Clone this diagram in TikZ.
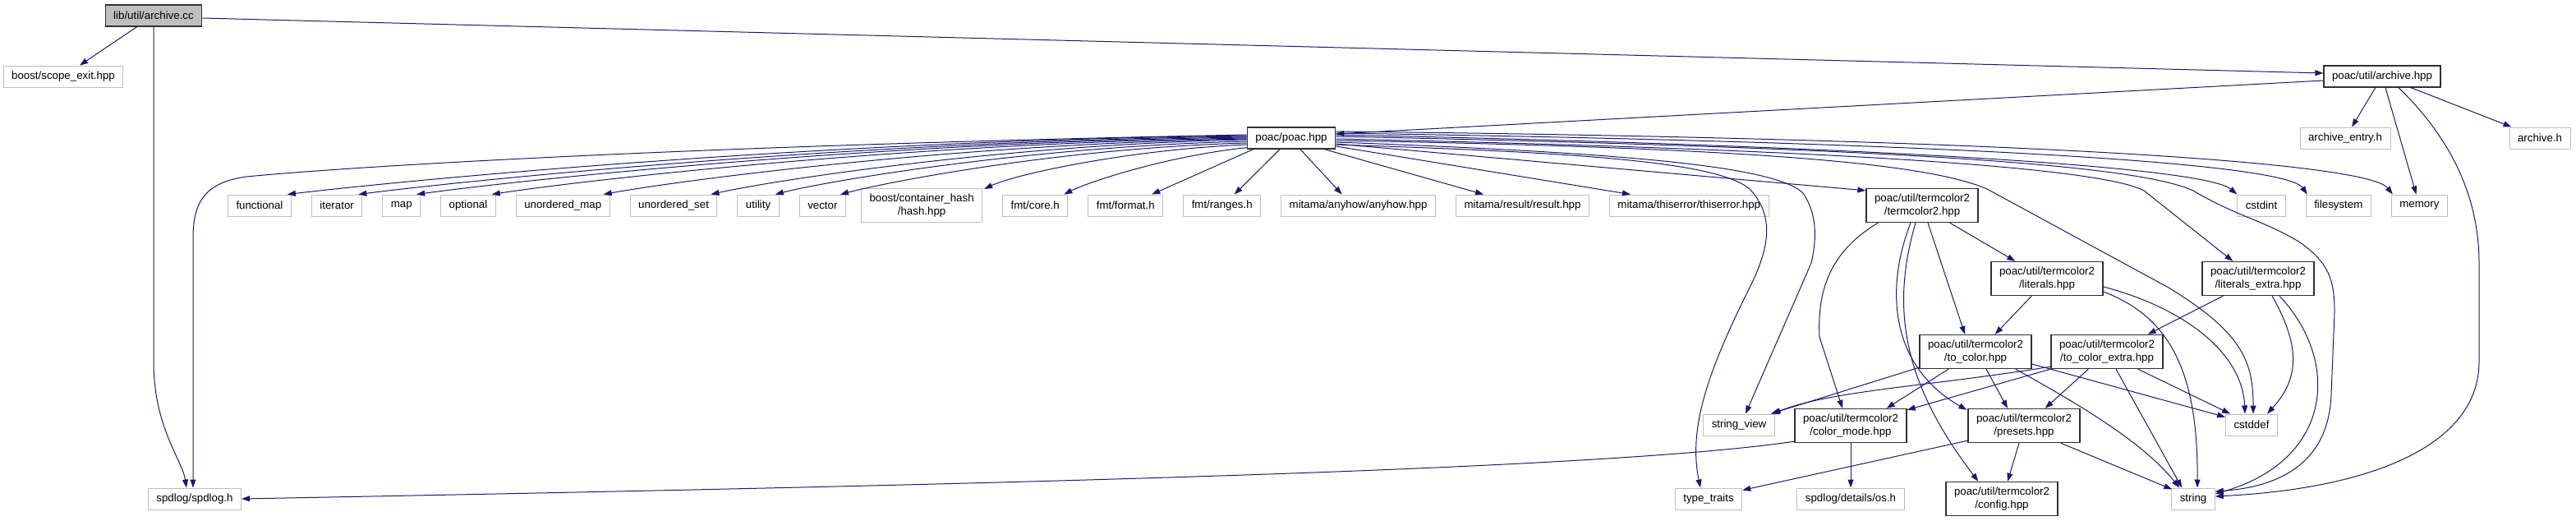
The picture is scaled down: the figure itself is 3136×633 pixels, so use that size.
\documentclass[tikz,border=0pt]{standalone}
\usepackage{fontspec}
\setmainfont{Liberation Sans}
\usepackage{xcolor}
\definecolor{cEdge}{HTML}{191970}
\definecolor{cExt}{HTML}{BFBFBF}
\definecolor{cRoot}{HTML}{BFBFBF}
\definecolor{cDoc}{HTML}{303030}
\usetikzlibrary{positioning,arrows.meta,calc}
\tikzset{
  node-ext/.style={draw=cExt,line width=1pt,fill=white,minimum height=26pt,
    inner xsep=10pt,inner ysep=2pt,align=center,
    font=\fontsize{13.3}{15.5}\selectfont},
  node-doc/.style={node-ext,draw=cDoc,line width=1.3pt},
  node-root/.style={node-doc,fill=cRoot},
  node-two/.style={minimum height=41pt},
  arrow/.style={-{Triangle[length=10pt,width=7pt]},line width=1pt,draw=cEdge},
}

\begin{document}
\begin{tikzpicture}[x=1pt,y=-1pt,node distance=24pt]
  \useasboundingbox (0,0) rectangle (3136,633);

  % top of the graph
  \node[node-root] (cc) at (187,19) {lib/util/archive.cc};
  \node[node-ext] (scope) at (77,93) {boost/scope\_exit.hpp};
  \node[node-doc] (ahpp) at (2900,93) {poac/util/archive.hpp};
  \node[node-doc] (poac) at (1572,168) {poac/poac.hpp};
  \node[node-ext] (aentry) at (2855,168) {archive\_entry.h};
  \node[node-ext] (ah) at (3092,168) {archive.h};

  % headers of poac.hpp
  \node[node-ext,anchor=west] (functional) at (277,250) {functional};
  \node[node-ext,right=of functional] (iterator) {iterator};
  \node[node-ext,right=of iterator] (map) {map};
  \node[node-ext,right=of map] (optional) {optional};
  \node[node-ext,right=of optional] (umap) {unordered\_map};
  \node[node-ext,right=of umap] (uset) {unordered\_set};
  \node[node-ext,right=of uset] (utility) {utility};
  \node[node-ext,right=of utility] (vector) {vector};
  \node[node-ext,node-two,right=18pt of vector] (boost) {boost/container\_hash\\/hash.hpp};
  \node[node-ext,right=of boost] (fmtcore) {fmt/core.h};
  \node[node-ext,right=of fmtcore] (fmtformat) {fmt/format.h};
  \node[node-ext,right=of fmtformat] (fmtranges) {fmt/ranges.h};
  \node[node-ext,right=of fmtranges] (anyhow) {mitama/anyhow/anyhow.hpp};
  \node[node-ext,right=of anyhow] (result) {mitama/result/result.hpp};
  \node[node-ext,right=of result] (thiserror) {mitama/thiserror/thiserror.hpp};
  \node[node-doc,node-two] (tc) at (2340,250) {poac/util/termcolor2\\/termcolor2.hpp};
  \node[node-ext] (cstdint) at (2753,250) {cstdint};
  \node[node-ext,right=of cstdint] (filesystem) {filesystem};
  \node[node-ext,right=of filesystem] (memory) {memory};

  % termcolor2
  \node[node-doc,node-two] (lit) at (2492,339) {poac/util/termcolor2\\/literals.hpp};
  \node[node-doc,node-two] (litx) at (2749,339) {poac/util/termcolor2\\/literals\_extra.hpp};
  \node[node-doc,node-two] (tocol) at (2405,428) {poac/util/termcolor2\\/to\_color.hpp};
  \node[node-doc,node-two] (tocx) at (2565,428) {poac/util/termcolor2\\/to\_color\_extra.hpp};
  \node[node-ext] (sview) at (2117,517) {string\_view};
  \node[node-doc,node-two] (cmode) at (2253,518) {poac/util/termcolor2\\/color\_mode.hpp};
  \node[node-doc,node-two] (presets) at (2464,518) {poac/util/termcolor2\\/presets.hpp};
  \node[node-ext] (cstddef) at (2741,517) {cstddef};

  % bottom row
  \node[node-ext] (spdlog) at (237,607) {spdlog/spdlog.h};
  \node[node-ext] (ttraits) at (2080,607) {type\_traits};
  \node[node-ext] (os) at (2253,607) {spdlog/details/os.h};
  \node[node-doc,node-two] (config) at (2437,607) {poac/util/termcolor2\\/config.hpp};
  \node[node-ext] (string) at (2670,607) {string};

  % archive.cc
  \draw[arrow] (cc) -- (scope);
  \draw[arrow] ($(cc.east)+(0,3)$) -- ($(ahpp.west)+(0,-4)$);
  \draw[arrow] (cc.south) -- (187,440) .. controls (187,520) and (222,560) .. ($(spdlog.north)+(-10,0)$);

  % archive.hpp
  \draw[arrow] ($(ahpp.west)+(0,5)$) -- ($(poac.east)+(0,-5)$);
  \draw[arrow] (ahpp) -- (aentry);
  \draw[arrow] (ahpp) -- (memory);
  \draw[arrow] (ahpp) -- (ah);
  \draw[arrow] ($(ahpp.south)+(20,0)$) .. controls (2975,160) and (3018,230) .. (3018,320)
    -- (3018,440) .. controls (3018,545) and (2880,595) .. ($(string.east)+(0,-3)$);

  % poac.hpp, to the left
  \draw[arrow] ($(poac.west)+(0,-4)$) .. controls (800,178) and (400,205) .. (300,215)
    .. controls (250,222) and (235,245) .. (235,290) -- ($(spdlog.north)+(-2,0)$);
  \draw[arrow] ($(poac.west)+(0,-3)$) .. controls (992,171) and (489,220) .. ($(functional.north east)+(-5,0)$);
  \draw[arrow] ($(poac.west)+(0,-2)$) .. controls (1031,172) and (565,220) .. ($(iterator.north east)+(-5,0)$);
  \draw[arrow] ($(poac.west)+(0,-1)$) .. controls (1062,173) and (627,220) .. ($(map.north east)+(-5,0)$);
  \draw[arrow] ($(poac.west)+(0,0)$) .. controls (1103,174) and (706,220) .. ($(optional.north east)+(-5,0)$);
  \draw[arrow] ($(poac.west)+(0,1)$) .. controls (1163,175) and (825,220) .. ($(umap.north east)+(-8,0)$);
  \draw[arrow] ($(poac.west)+(0,2)$) .. controls (1222,176) and (939,220) .. ($(uset.north east)+(-8,0)$);
  \draw[arrow] ($(poac.west)+(0,4)$) .. controls (1257,178) and (1008,220) .. ($(utility.north east)+(-5,0)$);
  \draw[arrow] ($(poac.west)+(0,6)$) .. controls (1297,180) and (1087,220) .. ($(vector.north east)+(-7,0)$);
  \draw[arrow] ($(poac.west)+(0,8)$) .. controls (1374,182) and (1236,212) .. ($(boost.north east)+(2,1)$);
  \draw[arrow] ($(poac.south west)+(0,-2)$) .. controls (1419,190) and (1324,222) .. ($(fmtcore.north east)+(-5,0)$);
  \draw[arrow] ($(poac.south west)+(8,0)$) -- ($(fmtformat.north east)+(-14,0)$);
  \draw[arrow] ($(poac.south)+(-14,0)$) -- ($(fmtranges.north)+(15,0)$);
  \draw[arrow] ($(poac.south)+(11,0)$) -- ($(anyhow.north)+(-20,0)$);
  \draw[arrow] ($(poac.south east)+(-14,0)$) -- ($(result.north west)+(34,0)$);

  % poac.hpp, to the right
  \draw[arrow] ($(poac.east)+(0,10)$) -- ($(thiserror.north west)+(26,0)$);
  \draw[arrow] ($(poac.east)+(0,7)$) -- ($(tc.north west)+(0,3)$);
  \draw[arrow] ($(poac.east)+(0,-8)$) .. controls (2400,168) and (2880,195) .. ($(memory.north west)+(2,0)$);
  \draw[arrow] ($(poac.east)+(0,-6)$) .. controls (2300,172) and (2780,195) .. ($(filesystem.north west)+(2,0)$);
  \draw[arrow] ($(poac.east)+(0,-4)$) .. controls (2200,176) and (2680,200) .. ($(cstdint.north west)+(0,0)$);
  \draw[arrow] ($(poac.east)+(0,-2)$) .. controls (2300,180) and (2600,200) .. (2670,232)
    .. controls (2720,262) and (2760,270) .. (2800,295)
    .. controls (2835,320) and (2842,340) .. (2842,380) -- (2838,480)
    .. controls (2835,560) and (2780,592) .. ($(string.east)+(0,-9)$);
  \draw[arrow] ($(poac.east)+(0,1)$) .. controls (2150,180) and (2550,200) .. (2610,232)
    -- ($(litx.north west)+(38,0)$);
  \draw[arrow] ($(poac.east)+(0,3)$) .. controls (2150,180) and (2350,200) .. (2419,230)
    -- (2640,350) .. controls (2730,405) and (2743,440) .. ($(cstddef.north)+(2,0)$);
  \draw[arrow] ($(poac.east)+(0,5)$) .. controls (1950,185) and (2160,200) .. (2195,235)
    .. controls (2212,260) and (2212,290) .. (2205,320) -- ($(sview.north)+(8,0)$);
  \draw[arrow] ($(poac.east)+(0,8)$) .. controls (1900,185) and (2090,195) .. (2130,230)
    .. controls (2160,262) and (2155,300) .. (2130,350)
    .. controls (2080,450) and (2055,520) .. ($(ttraits.north)+(-10,0)$);

  % termcolor2.hpp
  \draw[arrow] ($(tc.south east)+(-35,0)$) -- ($(lit.north west)+(30,0)$);
  \draw[arrow] ($(tc.south)+(7,0)$) -- ($(tocol.north)+(-13,0)$);
  \draw[arrow] ($(tc.south west)+(15,0)$) .. controls (2230,305) and (2212,350) .. (2215,410)
    -- ($(cmode.north)+(-10,0)$);
  \draw[arrow] ($(tc.south)+(-14,0)$) .. controls (2295,350) and (2300,445) .. ($(presets.north west)+(-1,2)$);
  \draw[arrow] ($(tc.south)+(-8,0)$) .. controls (2300,380) and (2320,470) .. ($(config.north west)+(40,0)$);

  % literals
  \draw[arrow] ($(lit.south west)+(50,0)$) -- ($(tocol.north east)+(-45,0)$);
  \draw[arrow] ($(lit.east)+(0,10)$) .. controls (2660,375) and (2730,430) .. ($(cstddef.north)+(-8,0)$);
  \draw[arrow] ($(lit.east)+(0,16)$) .. controls (2640,385) and (2676,450) .. ($(string.north)+(5,0)$);
  \draw[arrow] ($(litx.south west)+(26,0)$) -- ($(tocx.north east)+(-19,0)$);
  \draw[arrow] ($(litx.south)+(17,0)$) .. controls (2800,420) and (2800,460) .. ($(cstddef.north east)+(-13,0)$);
  \draw[arrow] ($(litx.south)+(26,0)$) .. controls (2850,440) and (2840,560) .. ($(string.east)+(0,-6)$);

  % to_color
  \draw[arrow] ($(tocol.south west)+(0,-2)$) -- ($(sview.north east)+(-5,0)$);
  \draw[arrow] ($(tocol.south)+(-33,0)$) -- ($(cmode.north east)+(-25,0)$);
  \draw[arrow] ($(tocol.south)+(13,0)$) -- ($(presets.north)+(-20,0)$);
  \draw[arrow] ($(tocol.east)+(0,15)$) -- ($(cstddef.north west)+(0,4)$);
  \draw[arrow] ($(tocol.south east)+(-20,0)$) .. controls (2540,497) and (2610,540) .. ($(string.north west)+(10,0)$);
  \draw[arrow] ($(tocx.south west)+(0,-3)$) .. controls (2350,470) and (2230,475) .. ($(sview.north east)+(-3,0)$);
  \draw[arrow] (tocx.south west) -- ($(cmode.north east)+(0,2)$);
  \draw[arrow] ($(tocx.south west)+(46,0)$) -- ($(presets.north east)+(-43,0)$);
  \draw[arrow] ($(tocx.south east)+(-31,0)$) -- ($(cstddef.north west)+(6,0)$);
  \draw[arrow] ($(tocx.south)+(11,0)$) -- ($(string.north west)+(13,0)$);

  % color_mode and presets
  \draw[arrow] ($(cmode.south west)+(0,-2)$) .. controls (1950,572) and (1200,590) .. (spdlog.east);
  \draw[arrow] (cmode) -- (os);
  \draw[arrow] ($(presets.south west)+(0,-3)$) -- ($(ttraits.north east)+(0,3)$);
  \draw[arrow] ($(presets.south)+(-6,0)$) -- ($(config.north)+(7,0)$);
  \draw[arrow] ($(presets.south east)+(-24,0)$) -- ($(string.north west)+(1,2)$);
\end{tikzpicture}
\end{document}
